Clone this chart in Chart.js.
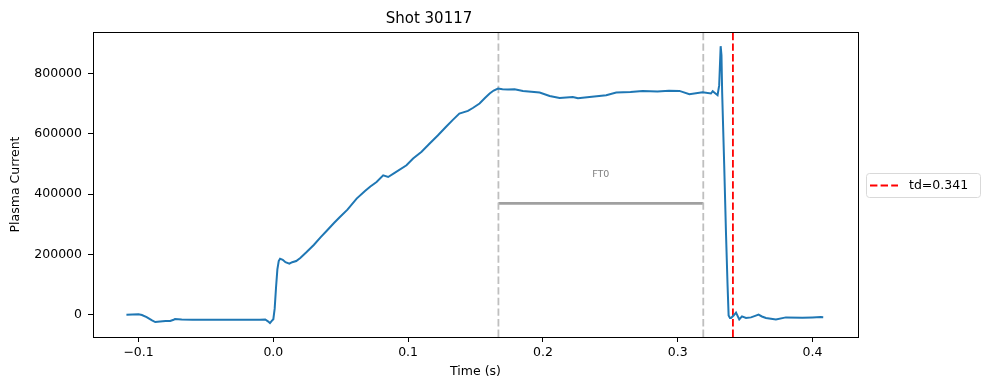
<!DOCTYPE html>
<html>
<head>
<meta charset="utf-8">
<script src="https://cdn.jsdelivr.net/npm/chart.js@4"></script>
<style>
  html, body { margin: 0; padding: 0; background: #fff; }
  #wrap { width: 989px; height: 390px; }
</style>
</head>
<body>
<div id="wrap"><canvas id="shotChart" width="989" height="390"></canvas></div>
<script>
// Plasma current trace for shot 30117
const timeS = [
    -0.109, -0.100, -0.0975, -0.094, -0.090, -0.0876, -0.084, -0.080, -0.0765, -0.074,
    -0.073, -0.068, -0.060, -0.050, -0.040, -0.030, -0.020, -0.010, -0.006, -0.004,
    -0.0025, -0.001, 0.000, 0.001, 0.002, 0.003, 0.004, 0.005, 0.007, 0.009,
    0.0119, 0.014, 0.017, 0.020, 0.0247, 0.030, 0.035, 0.040, 0.045, 0.0494,
    0.055, 0.0618, 0.068, 0.072, 0.0766, 0.0815, 0.0852, 0.090, 0.0988, 0.1037,
    0.110, 0.116, 0.122, 0.128, 0.133, 0.138, 0.1444, 0.148, 0.153, 0.157,
    0.1605, 0.1635, 0.1667, 0.170, 0.174, 0.179, 0.1852, 0.1976, 0.205, 0.2124,
    0.2222, 0.226, 0.2346, 0.247, 0.2544, 0.265, 0.274, 0.285, 0.2935, 0.3013,
    0.3087, 0.3185, 0.3247, 0.326, 0.3296, 0.3308, 0.3319, 0.3325, 0.333, 0.3345,
    0.3359, 0.337, 0.3378, 0.3388, 0.3396, 0.3415, 0.3433, 0.3457, 0.3477, 0.3507,
    0.3544, 0.3575, 0.360, 0.3625, 0.3655, 0.3729, 0.3803, 0.3926, 0.400, 0.4062,
    0.408
];
const plasmaCurrent = [
    0, 1000, -1000, -8000, -19000, -24500, -23000, -21000, -21000, -17000,
    -14600, -16000, -16500, -17000, -16500, -17000, -16500, -17000, -16000, -22000,
    -27800, -20000, -15000, 20000, 90000, 150000, 178000, 185700, 182000, 174000,
    169000, 174000, 178000, 188000, 207600, 231000, 256000, 280000, 304000, 323700,
    348000, 384700, 410000, 425000, 439800, 462000, 456400, 470000, 495200, 517500,
    540000, 567200, 594000, 622300, 645000, 666700, 675400, 685000, 700000, 718000,
    733000, 743000, 749600, 747000, 746300, 747300, 741700, 736300, 725100, 718500,
    721800, 717500, 721800, 727400, 736300, 738000, 741700, 740000, 742000, 741700,
    730700, 737400, 733000, 740700, 727400, 760000, 890000, 860000, 738000, 500000,
    263000, 100000, -2300, -11000, -11000, -3000, 6600, -15600, -5600, -11000,
    -9000, -4000, 0, -6000, -11000, -15600, -9000, -10000, -9000, -8000,
    -8500
];

// flat-top window and disruption time
const ftStart = 0.167;
const ftEnd = 0.319;
const ftLevel = 369000;
const ftLabel = 'FT0';
const ftLabelLevel = 465000;
const td = 0.341;

const xTicks = [-0.1, 0.0, 0.1, 0.2, 0.3, 0.4];
const yTicks = [0, 200000, 400000, 600000, 800000];
const xRange = [-0.1338, 0.4338];
const yRange = [-74000, 937000];

const FONT = 'DejaVu Sans';
const DASH = [7.4, 3.2];

// box around the plot area, FT0 label and the side legend
const framePlugin = {
    id: 'frame',
    afterDatasetsDraw(chart) {
        const { ctx, chartArea: a, scales } = chart;
        ctx.save();
        ctx.strokeStyle = '#000';
        ctx.lineWidth = 1;
        ctx.strokeRect(Math.round(a.left) + 0.5, Math.round(a.top) + 0.5,
            Math.round(a.right - a.left), Math.round(a.bottom - a.top));

        // FT0 text
        ctx.fillStyle = '#808080';
        ctx.font = '9.5px "' + FONT + '"';
        ctx.textAlign = 'center';
        ctx.textBaseline = 'middle';
        ctx.fillText(ftLabel, scales.x.getPixelForValue((ftStart + ftEnd) / 2),
            scales.y.getPixelForValue(ftLabelLevel));

        // legend
        const lx = 866, ly = 173, lw = 114, lh = 24;
        ctx.beginPath();
        ctx.roundRect(lx + 0.5, ly + 0.5, lw, lh, 3);
        ctx.fillStyle = 'rgba(255,255,255,0.8)';
        ctx.fill();
        ctx.strokeStyle = '#d9d9d9';
        ctx.lineWidth = 1;
        ctx.stroke();
        ctx.beginPath();
        ctx.setLineDash(DASH);
        ctx.strokeStyle = '#ff0000';
        ctx.lineWidth = 1.8;
        ctx.moveTo(lx + 4, ly + 12.5);
        ctx.lineTo(lx + 32, ly + 12.5);
        ctx.stroke();
        ctx.setLineDash([]);
        ctx.fillStyle = '#000';
        ctx.font = '12.5px "' + FONT + '"';
        ctx.textAlign = 'left';
        ctx.fillText('td=' + td, lx + 43, ly + 13);
        ctx.restore();
    }
};

const vline = (x, color) => ({
    data: [{ x: x, y: yRange[0] }, { x: x, y: yRange[1] }],
    borderColor: color,
    borderWidth: 1.8,
    borderDash: DASH,
    pointRadius: 0,
    tension: 0
});

const ctx = document.getElementById('shotChart').getContext('2d');
new Chart(ctx, {
    type: 'line',
    data: {
        datasets: [
            {
                label: 'Plasma Current',
                data: timeS.map((t, i) => ({ x: t, y: plasmaCurrent[i] })),
                borderColor: '#1f77b4',
                borderWidth: 2,
                pointRadius: 0,
                tension: 0
            },
            vline(ftStart, '#bfbfbf'),
            vline(ftEnd, '#bfbfbf'),
            {
                data: [{ x: ftStart, y: ftLevel }, { x: ftEnd, y: ftLevel }],
                borderColor: '#a0a0a0',
                borderWidth: 2.6,
                pointRadius: 0
            },
            vline(td, '#ff0000')
        ]
    },
    options: {
        responsive: false,
        animation: false,
        events: [],
        layout: { padding: { left: 0, right: 131, top: 0, bottom: 0 } },
        plugins: {
            legend: { display: false },
            tooltip: { enabled: false },
            title: {
                display: true,
                text: 'Shot 30117',
                color: '#000',
                font: { family: FONT, size: 15, weight: 'normal' },
                padding: { top: 10, bottom: 4 }
            }
        },
        scales: {
            x: {
                type: 'linear',
                min: xRange[0],
                max: xRange[1],
                afterBuildTicks: (s) => { s.ticks = xTicks.map(v => ({ value: v })); },
                afterFit: (s) => { s.height = 53; },
                border: { display: false },
                grid: { drawOnChartArea: false, drawTicks: true, tickLength: 5, tickColor: '#000' },
                ticks: {
                    color: '#000',
                    padding: 3,
                    maxRotation: 0,
                    font: { family: FONT, size: 12.5 },
                    callback: (v) => (v < 0 ? '\u2212' : '') + Math.abs(v).toFixed(1)
                },
                title: {
                    display: true,
                    text: 'Time (s)',
                    color: '#000',
                    font: { family: FONT, size: 12.5 },
                    padding: { top: 0, bottom: 11 }
                }
            },
            y: {
                type: 'linear',
                min: yRange[0],
                max: yRange[1],
                afterBuildTicks: (s) => { s.ticks = yTicks.map(v => ({ value: v })); },
                afterFit: (s) => { s.width = 93; },
                border: { display: false },
                grid: { drawOnChartArea: false, drawTicks: true, tickLength: 5, tickColor: '#000' },
                ticks: {
                    color: '#000',
                    padding: 6,
                    font: { family: FONT, size: 12.5 },
                    callback: (v) => String(v)
                },
                title: {
                    display: true,
                    text: 'Plasma Current',
                    color: '#000',
                    font: { family: FONT, size: 12.5 },
                    padding: { top: 8, bottom: 0 }
                }
            }
        }
    },
    plugins: [framePlugin]
});
</script>
</body>
</html>
